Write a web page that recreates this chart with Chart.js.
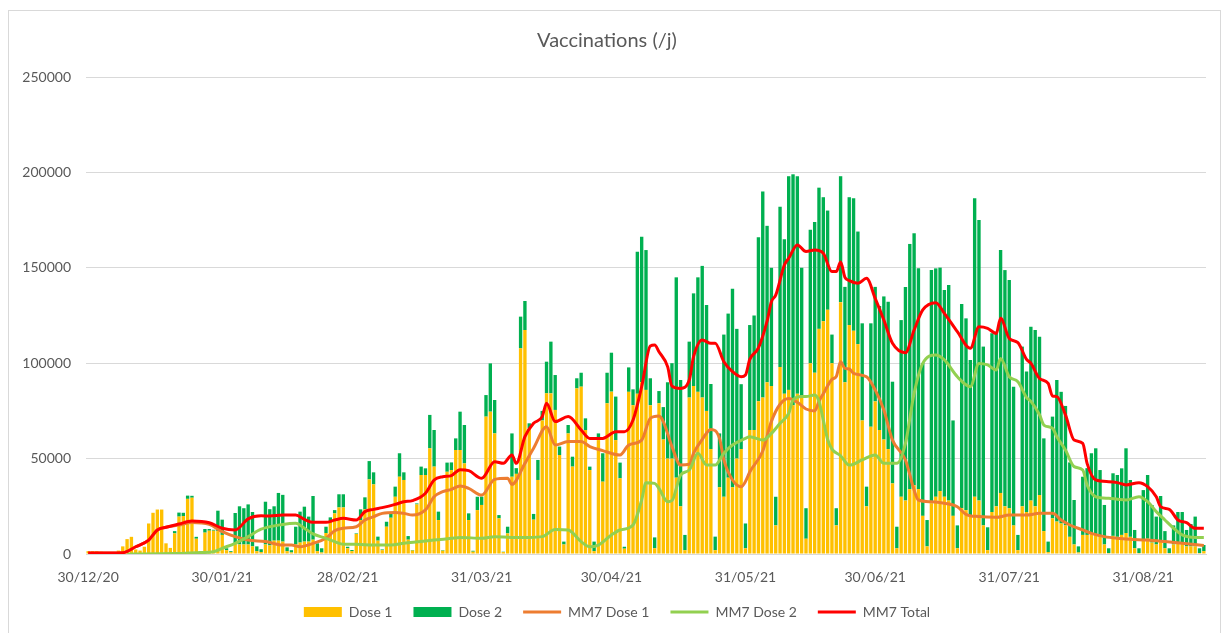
<!DOCTYPE html>
<html><head><meta charset="utf-8">
<script src="https://cdn.jsdelivr.net/npm/chart.js@4.4.1/dist/chart.umd.min.js"></script>
<style>
html,body{margin:0;padding:0;background:#fff;}
#wrap{position:relative;width:1225px;height:633px;overflow:hidden;}
#frame{position:absolute;left:8px;top:10px;width:1213px;height:640px;border:1px solid #d9d9d9;box-sizing:border-box;}
canvas{position:absolute;left:0;top:0;}
</style></head><body>
<div id="wrap"><div id="frame"></div><canvas id="c" width="1225" height="633"></canvas></div>
<script>
// ---- data (daily values) ----
const startDay = '2020-12-30';
const tickLabels = ['30/12/20','30/01/21','28/02/21','31/03/21','30/04/21','31/05/21','30/06/21','31/07/21','31/08/21'];
const dose1 = [
1500,1500,1500,1200,100,200,300,1800,4000,7800,
9000,2400,1800,3800,16000,21600,23300,23300,5600,3200,
10800,19600,19900,28900,29500,8000,1000,11200,12200,12200,
12000,10000,2000,1000,5500,5000,5000,5000,4000,1500,
1000,5000,4500,7000,7000,6500,1500,800,5000,6000,
6500,6500,7500,1500,800,11000,17000,21300,24400,24400,
3000,1500,10500,17800,23400,39100,36500,7000,2000,14300,
19000,30000,40500,38800,7500,1800,26000,41400,41400,55400,
45800,17800,1700,43100,44000,54500,54500,47500,17800,1200,
23000,25700,72000,74600,63200,18700,1000,10800,40500,42000,
107800,117400,65900,18000,38800,70000,84200,84200,75500,51900,
5000,63200,45800,86800,87700,65000,44000,1500,59700,37900,
79000,85100,59700,39700,2800,85000,78000,84000,90000,86000,
78000,3000,79000,60000,50000,50000,40000,25000,2000,82000,
88000,85000,82000,75000,55000,2000,35000,30000,40000,35000,
50000,55000,3000,65000,65000,80000,82000,90000,88000,15000,
98000,84000,86000,78000,84000,82000,8000,100000,95000,118000,
122000,128000,100000,15000,132000,90000,120000,117000,110000,70000,
25000,66700,80000,65000,60000,55000,37000,3000,30000,28000,
34000,36000,34000,20000,4000,26600,30000,33000,30000,28000,
20000,3000,24000,23000,20000,30000,28000,15000,2000,22000,
25000,32000,25000,24000,15000,2000,25000,22000,28000,25000,
30900,12000,1000,18700,17000,16000,15000,9000,5000,800,
10000,10000,11000,10500,9000,5000,500,9500,9000,10000,
11000,9000,3000,500,7000,8000,6000,5000,6500,3000,
500,5000,5500,5500,4000,4000,4000,500,1500];
const dose2 = [
0,0,0,0,0,0,0,0,0,0,
0,0,0,0,0,0,0,0,0,0,
1200,2100,1700,1700,1000,1000,200,1900,900,500,
10700,8000,1000,500,16000,20000,19000,21000,18000,2500,
1500,22400,19000,18000,25000,24500,2000,1200,9300,16200,
18300,13100,22900,4100,2200,3300,2200,1700,6900,6900,
800,600,300,5600,6300,9600,6300,2100,400,2600,
2300,5300,12300,4000,1900,300,500,4400,3500,17500,
19200,4400,300,4800,4000,6100,20100,20100,3500,500,
7000,4400,11300,25300,17500,1700,200,3500,22700,3000,
16600,15200,2600,3000,10500,5000,16600,27100,18300,4400,
1500,4400,5200,5300,7300,6100,1800,5000,3500,14900,
16000,20400,22800,8200,1000,12800,8300,74400,76300,73300,
14100,5700,6400,17000,40000,50000,105000,66200,8000,29300,
48600,60000,69000,55500,34100,7100,28200,85000,86000,104000,
68000,34000,13000,55000,60000,86000,108000,82000,62000,15000,
84000,81000,112000,121000,114000,68000,16000,70000,79000,74000,
65000,52000,15000,9000,66000,50000,67000,69400,59000,50900,
10300,54200,60000,65000,75000,77200,53300,11300,92600,112000,
128500,132100,115700,80000,13800,122200,119700,117100,108400,113000,
50000,12000,107000,100500,81700,156400,147000,93700,12000,93700,
91500,127300,123800,119600,72700,8000,83700,73600,91100,92400,
83000,48600,5500,53300,74200,69000,62600,39000,23300,3200,
30500,35000,41800,44900,35000,20700,2500,32800,32400,34900,
44400,29800,9600,2500,26500,33400,19700,14600,23900,9000,
2500,10000,16500,16500,8600,11700,15600,2500,3200];

// moving-average lines at the listed day indices
const mm7Dose1Days = [0,8,11,14,16,18,21,24,28,31,34,37,41,45,47,49,52,55,57,59,62,64,66,68,71,73,75,78,80,82,84,86,88,91,94,97,98,101,103,106,108,111,114,116,119,123,125,128,130,132,133,135,137,139,140,142,144,146,147,149,151,152,153,156,158,160,162,164,166,168,169,170,172,173,174,175,176,177,180,182,184,186,189,191,192,195,198,201,203,206,210,213,217,220,223,225,227,230,232,235,238,241,245,249,253,258];
const mm7Dose1 = [500,700,3800,7300,12600,14000,15200,16500,15500,11700,9100,7300,6500,4700,4700,3800,5600,8200,12200,13500,14300,17800,19600,21300,21800,21300,20400,23100,30000,32700,33900,35600,34400,30900,39100,39700,36500,47500,55400,66700,57100,58900,58900,56300,54200,51900,57100,59700,71100,72300,69400,56300,46600,47000,52800,60100,65300,60600,49300,38800,35300,38000,43000,54000,69500,78500,81500,79500,76000,75000,80000,84000,91500,93000,100800,97300,97000,94700,92900,86000,75500,59700,49300,33500,28300,27400,26600,24800,20800,19600,19200,20400,20400,21300,21300,17800,15200,12600,10800,9100,8200,7700,7300,6500,5600,4400];
const mm7Dose2Days = [9,20,26,29,31,34,37,40,45,48,50,52,55,57,59,62,66,70,73,77,80,84,86,91,94,98,102,105,108,111,114,116,118,121,123,126,128,129,131,132,134,135,137,139,141,143,145,147,149,152,153,156,158,160,162,163,165,166,168,169,170,171,172,174,176,179,182,184,187,189,191,193,196,198,201,204,206,208,210,211,213,215,217,218,220,221,223,224,226,228,230,231,233,236,238,240,243,245,247,249,251,253,256,258];
const mm7Dose2 = [0,200,800,1200,3000,5600,9100,13000,15500,16100,13500,10500,8200,6500,5100,5100,4700,4700,5600,6500,7300,8200,8700,8200,9100,8700,8700,9100,12900,12600,6500,3800,4700,10000,12600,15200,28300,37400,37000,34400,27400,28000,41400,44000,52800,46600,46600,52800,57100,60600,61500,59700,63200,68500,73700,80700,82500,82500,83300,80000,70200,60000,55000,51500,46600,49300,51900,47500,47500,58000,84200,99900,104300,101700,92900,87700,99900,99100,96400,102500,92900,90300,82000,80000,73000,67600,65900,61500,54500,45800,44000,36200,30000,29200,28700,28300,30000,27400,22200,17800,13500,10000,8700,8700];
const mm7TotalDays = [0,8,11,14,16,18,21,24,28,31,34,37,40,42,45,48,50,52,55,57,59,62,64,66,68,71,73,75,78,80,82,84,86,88,91,94,96,98,99,101,103,105,106,108,111,114,116,119,122,124,126,128,130,131,132,134,135,137,139,140,142,144,145,147,149,151,152,153,155,157,158,159,161,162,164,166,168,170,172,173,174,175,176,178,180,182,184,186,189,191,193,196,198,201,204,206,208,210,211,213,215,217,218,220,222,223,224,226,228,230,231,233,236,238,240,243,245,247,248,250,252,254,256,258];
const mm7Total = [500,700,3800,7300,12600,14000,15700,17300,16400,13500,12600,18400,20000,19900,20400,20400,18200,16600,16600,17800,18700,17800,22200,23400,24300,26000,27400,28000,31800,38800,40500,41100,44200,43700,39700,48400,47500,51900,47500,61500,68500,72000,79000,69400,72000,65000,60600,60600,64100,64100,70200,87700,109000,109500,106000,98200,88000,86800,91200,103400,112200,110400,110400,100800,95600,92900,93800,102000,108000,122000,132200,135700,151500,155000,162000,158500,159300,157600,148000,148000,153000,145000,143300,141900,144500,134000,122600,110400,105500,117400,127900,131700,126100,116500,107800,119100,118300,115600,123500,113000,110800,102000,100000,92000,89400,82800,82500,72900,59700,58000,47500,38800,37900,37400,36200,37400,35300,30000,24800,23400,17800,16400,13500,13500];

// ---- build categories (one per day) ----
const categories = [];
(function(){
  const t0 = Date.parse(startDay + 'T00:00:00Z');
  const p = n => (n < 10 ? '0' : '') + n;
  for (let i = 0; i < dose1.length; i++) {
    const d = new Date(t0 + i * 86400000);
    categories.push(p(d.getUTCDate()) + '/' + p(d.getUTCMonth() + 1) + '/' + String(d.getUTCFullYear()).slice(2));
  }
})();
const toPoints = (days, vals) => days.map((d, i) => ({ x: categories[d], y: vals[i] }));

Chart.defaults.font.family = 'Lato';
Chart.defaults.color = '#595959';

// nudge the legend to the same horizontal centre as the reference
const legendShift = {
  id: 'legendShift',
  afterUpdate(chart) {
    const lg = chart.legend;
    if (!lg || lg._shifted) return;
    const orig = lg.draw.bind(lg);
    lg.draw = function(area) { const c = chart.ctx; c.save(); c.translate(10, 0); orig(area); c.restore(); };
    lg._shifted = true;
  }
};

new Chart(document.getElementById('c'), {
  data: {
    labels: categories,
    datasets: [
      { type: 'bar', label: 'Dose 1', data: dose1, backgroundColor: '#FFC000', borderWidth: 0, stack: 'doses', order: 10, barPercentage: 0.78, categoryPercentage: 1 },
      { type: 'bar', label: 'Dose 2', data: dose2, backgroundColor: '#00B050', borderWidth: 0, stack: 'doses', order: 10, barPercentage: 0.78, categoryPercentage: 1 },
      { type: 'line', label: 'MM7 Dose 1', data: toPoints(mm7Dose1Days, mm7Dose1), borderColor: '#ED7D31', backgroundColor: '#ED7D31', borderWidth: 3, pointRadius: 0, fill: false, cubicInterpolationMode: 'monotone', stack: 'l1', order: 3, spanGaps: true },
      { type: 'line', label: 'MM7 Dose 2', data: toPoints(mm7Dose2Days, mm7Dose2), borderColor: '#92D050', backgroundColor: '#92D050', borderWidth: 3, pointRadius: 0, fill: false, cubicInterpolationMode: 'monotone', stack: 'l2', order: 2, spanGaps: true },
      { type: 'line', label: 'MM7 Total', data: toPoints(mm7TotalDays, mm7Total), borderColor: '#FF0000', backgroundColor: '#FF0000', borderWidth: 3, pointRadius: 0, fill: false, cubicInterpolationMode: 'monotone', stack: 'l3', order: 1, spanGaps: true }
    ]
  },
  plugins: [legendShift],
  options: {
    responsive: false,
    animation: false,
    devicePixelRatio: 1,
    layout: { padding: { left: 8, right: 19, top: 0, bottom: 4 } },
    plugins: {
      tooltip: { enabled: false },
      title: { display: true, text: 'Vaccinations (/j)', color: '#595959', font: { size: 20, weight: 'normal' }, padding: { top: 29, bottom: 24 } },
      legend: {
        position: 'bottom',
        labels: {
          sort: (a, b) => a.datasetIndex - b.datasetIndex,
          usePointStyle: true, pointStyleWidth: 38, boxHeight: 10, padding: 21,
          color: '#595959', font: { size: 14 },
          generateLabels(chart) {
            const items = Chart.defaults.plugins.legend.labels.generateLabels(chart);
            items.forEach(it => {
              const ds = chart.data.datasets[it.datasetIndex];
              if (ds.type === 'line') { it.pointStyle = 'line'; it.lineWidth = 3; it.strokeStyle = ds.borderColor; it.fillStyle = ds.borderColor; }
              else { it.pointStyle = 'rect'; it.lineWidth = 0; it.fillStyle = ds.backgroundColor; it.strokeStyle = ds.backgroundColor; }
            });
            return items;
          }
        }
      }
    },
    scales: {
      x: {
        stacked: true,
        grid: { display: false, drawTicks: false },
        border: { display: true, color: '#d9d9d9', width: 1 },
        afterFit: s => { s.height = 30; },
        ticks: {
          autoSkip: false, maxRotation: 0, minRotation: 0, padding: 15,
          color: '#595959', font: { size: 14 },
          callback: (v, i) => tickLabels.includes(categories[i]) ? categories[i] : ''
        }
      },
      y: {
        stacked: true, min: 0, max: 250000,
        afterFit: s => { s.width = 78; },
        grid: { color: '#d9d9d9', lineWidth: 1, drawTicks: false },
        border: { display: false },
        ticks: { stepSize: 50000, padding: 15, color: '#595959', font: { size: 14 }, callback: v => String(v) }
      }
    }
  }
});
</script></body></html>
